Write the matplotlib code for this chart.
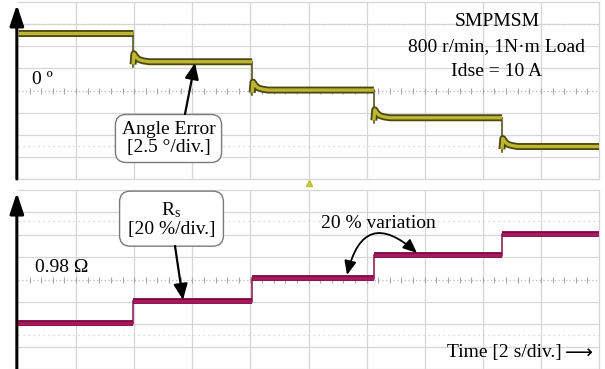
import matplotlib
matplotlib.use('Agg')
import matplotlib.pyplot as plt
import matplotlib.patheffects as pe
from matplotlib.patches import FancyArrowPatch

# ---------------- data ----------------
step_times = [0.0, 3.96, 8.06, 12.25, 16.66, 20.0]      # s
angle_levels = [6.45, 3.25, 0.05, -3.08, -6.33]          # deg
trans_dt = [0.0, 0.03, 0.1, 0.2, 0.35, 0.55]             # s after a step
trans_dv = [-0.3, 0.9, 0.55, 0.25, 0.1, 0.0]             # deg around the new level
rs_levels = [-38.8, -18.8, 0.9, 21.5, 41.0]              # % of 0.98 ohm

W, H = 605, 369
plt.rcParams['font.family'] = ['Liberation Serif', 'DejaVu Sans']
plt.rcParams['mathtext.fontset'] = 'custom'
plt.rcParams['mathtext.rm'] = 'Liberation Serif'
plt.rcParams['mathtext.it'] = 'Liberation Serif:italic'

fig = plt.figure(figsize=(W / 100, H / 100), dpi=100)
fig.patch.set_facecolor('white')


def px_axes(x0, y0, x1, y1):
    return fig.add_axes([x0 / W, 1 - y1 / H, (x1 - x0) / W, (y1 - y0) / H])


def P(x, y):
    return (x / W, 1 - y / H)


ax1 = px_axes(18, 2, 599, 179)
ax2 = px_axes(18, 190, 599, 369)

GC = '#d6d6d6'


def style(ax, lim, dotted_rows):
    ax.set_xlim(0, 20)
    ax.set_ylim(-lim, lim)
    div = lim / 4
    for k in range(1, 10):
        ax.axvline(2 * k, color=GC, lw=0.9, zorder=0)
    for k in (-3, -2, -1, 1, 2, 3):
        ax.axhline(k * div, color=GC, lw=0.9, zorder=0)
    for r in dotted_rows:
        ax.axhline(r * div, color='#cfcfcf', lw=0.9, ls=(0, (1, 3)), zorder=0)
    ax.axhline(0, color='#b8b8b8', lw=0.9, ls=(0, (1, 2)), zorder=0)
    xt = [0.4 * i for i in range(1, 50)]
    ax.plot(xt, [0] * len(xt), ls='none', marker='|', ms=4, mew=0.8,
            color='#a8a8a8', zorder=0)
    for s in ('top', 'right', 'bottom'):
        ax.spines[s].set_color(GC)
        ax.spines[s].set_linewidth(0.9)
    ax.spines['left'].set_visible(False)
    ax.set_xticks([])
    ax.set_yticks([])
    ax.annotate('', xy=(-0.002, 0.985), xytext=(-0.002, 0.0),
                xycoords='axes fraction',
                arrowprops=dict(arrowstyle='-|>,head_length=0.9,head_width=0.3',
                                lw=2.2, color='black', shrinkA=0, shrinkB=0,
                                mutation_scale=14),
                annotation_clip=False)


style(ax1, 10, [3.0, -2.5])
style(ax2, 80, [2.6, -2.5])

# ---------------- angle error trace ----------------
gold_dark = '#4a470f'
gold_fx = [pe.Stroke(linewidth=5.0, foreground=gold_dark), pe.Normal()]
for i, lvl in enumerate(angle_levels):
    t0, t1 = step_times[i], step_times[i + 1]
    if i == 0:
        ts, vs = [t0, t1], [lvl, lvl]
    else:
        ts = [t0 + d for d in trans_dt] + [t1]
        vs = [lvl + d for d in trans_dv] + [lvl]
        ax1.plot([t0, t0], [angle_levels[i - 1], lvl + trans_dv[0] - 0.3],
                 color=gold_dark, lw=1.1, zorder=3)
    ax1.plot(ts, vs, color='#bdb632', lw=2.4, path_effects=gold_fx,
             solid_capstyle='butt', solid_joinstyle='round', zorder=4)

# ---------------- Rs trace ----------------
rs_fx = [pe.Stroke(linewidth=4.2, foreground='#7e0c40'), pe.Normal()]
for i, lvl in enumerate(rs_levels):
    t0, t1 = step_times[i], step_times[i + 1]
    if i > 0:
        ax2.plot([t0, t0], [rs_levels[i - 1], lvl], color='#8a0e48', lw=1.1,
                 zorder=3)
    ax2.plot([t0, t1], [lvl, lvl], color='#a8185c', lw=2.2,
             path_effects=rs_fx, solid_capstyle='butt', zorder=4)

# trigger marker
ax1.plot([10.0], [-10.45], marker='^', ms=5, color='#c8d040', mec='#b8c030',
         clip_on=False, zorder=5)

# ---------------- texts ----------------
FS = 14
fig.text(*P(32, 80), '0 º', fontsize=FS, ha='left', va='center')
fig.text(*P(35, 267), '0.98 Ω', fontsize=FS, ha='left', va='center')
fig.text(*P(497, 22), 'SMPMSM', fontsize=FS, ha='center', va='center')
fig.text(*P(497, 47), '800 r/min, 1N·m Load', fontsize=FS, ha='center', va='center')
fig.text(*P(497, 72), 'Idse = 10 A', fontsize=FS, ha='center', va='center')
fig.text(*P(378, 224), '20 % variation', fontsize=FS, ha='center', va='center')
fig.text(*P(562, 352), 'Time [2 s/div.]', fontsize=FS, ha='right', va='center')
fig.text(*P(593, 353), '⟶', fontsize=FS, ha='right', va='center',
         family=['DejaVu Sans'])

box = dict(boxstyle='round,pad=0.32,rounding_size=0.55', fc='white',
           ec='#7a7a7a', lw=1.0)
box2 = dict(boxstyle='round,pad=0.42,rounding_size=0.55', fc='white',
            ec='#7a7a7a', lw=1.0)
fig.text(*P(168.5, 138.5), 'Angle Error\n[2.5 °/div.]', fontsize=FS, ha='center',
         va='center', multialignment='center', linespacing=1.12, bbox=box,
         zorder=6)
fig.text(*P(171.5, 219), 'R$_\\mathrm{s}$\n[20 %/div.]', fontsize=FS,
         ha='center', va='center', multialignment='center', linespacing=1.1,
         bbox=box2, zorder=6)

# pointer arrows
for a, b in [((185, 114), (195, 63)), ((175, 246), (183, 300))]:
    fig.add_artist(FancyArrowPatch(P(*a), P(*b), transform=fig.transFigure,
                                   arrowstyle='-|>,head_length=0.8,head_width=0.35',
                                   mutation_scale=12, lw=1.6, color='black',
                                   shrinkA=0, shrinkB=0, zorder=7))

fig.add_artist(FancyArrowPatch(P(347, 275), P(417, 253), transform=fig.transFigure,
                               connectionstyle='arc3,rad=-0.83',
                               arrowstyle='<|-|>,head_length=0.7,head_width=0.3',
                               mutation_scale=12, lw=1.3, color='black',
                               shrinkA=0, shrinkB=0, zorder=7))

fig.savefig('out.png', dpi=100, facecolor='white')
